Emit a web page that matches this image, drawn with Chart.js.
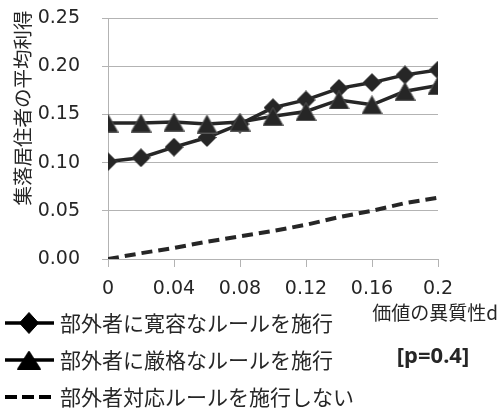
<!DOCTYPE html>
<html>
<head>
<meta charset="utf-8">
<script src="https://cdn.jsdelivr.net/npm/chart.js@4/dist/chart.umd.min.js"></script>
<style>
  html, body { margin: 0; padding: 0; background: #ffffff; }
  #wrap { width: 500px; height: 419px; }
</style>
</head>
<body>
<div id="wrap"><canvas id="c" width="500" height="419"></canvas></div>
<script>
// 価値の異質性 d
const xValues = [0, 0.02, 0.04, 0.06, 0.08, 0.10, 0.12, 0.14, 0.16, 0.18, 0.20];
// 部外者に寛容なルールを施行
const tolerantRule = [0.101, 0.105, 0.116, 0.126, 0.140, 0.157, 0.165, 0.177, 0.183, 0.191, 0.196];
// 部外者に厳格なルールを施行
const strictRule = [0.141, 0.141, 0.142, 0.140, 0.142, 0.148, 0.153, 0.165, 0.160, 0.174, 0.180];
// 部外者対応ルールを施行しない
const noRule = [0.000, 0.006, 0.0115, 0.018, 0.0235, 0.029, 0.0355, 0.0435, 0.050, 0.058, 0.0635];

const seriesLabels = ['部外者に寛容なルールを施行', '部外者に厳格なルールを施行', '部外者対応ルールを施行しない'];
const xTickValues = [0, 0.04, 0.08, 0.12, 0.16, 0.2];
const xTickLabels = ['0', '0.04', '0.08', '0.12', '0.16', '0.2'];
const yTickValues = [0, 0.05, 0.10, 0.15, 0.20, 0.25];
const yTickLabels = ['0.00', '0.05', '0.10', '0.15', '0.20', '0.25'];
const yTitle = '集落居住者の平均利得';
const xTitle = '価値の異質性d';
const noteText = '[p=0.4]';

const INK = '#262626';
const GRID = '#b3b3b3';

// marker bitmaps, centred on their bounding box
function diamondMarker(w, h, fill, edge) {
  const cv = document.createElement('canvas');
  cv.width = w; cv.height = h;
  const g = cv.getContext('2d');
  g.beginPath();
  g.moveTo(w / 2, 0.5); g.lineTo(w - 0.5, h / 2);
  g.lineTo(w / 2, h - 0.5); g.lineTo(0.5, h / 2); g.closePath();
  g.fillStyle = fill; g.fill();
  g.strokeStyle = edge; g.lineWidth = 1; g.stroke();
  return cv;
}
function triangleMarker(w, h, fill, edge) {
  const cv = document.createElement('canvas');
  cv.width = w; cv.height = h;
  const g = cv.getContext('2d');
  g.beginPath();
  g.moveTo(w / 2, 0.5); g.lineTo(w - 0.5, h - 0.5); g.lineTo(0.5, h - 0.5); g.closePath();
  g.fillStyle = fill; g.fill();
  g.strokeStyle = edge; g.lineWidth = 1; g.stroke();
  return cv;
}
const diamondPt = diamondMarker(19, 19, INK, '#3a3a3a');
const trianglePt = triangleMarker(21, 19, INK, '#555555');
const diamondLegend = diamondMarker(20, 22, '#000000', '#000000');
const triangleLegend = triangleMarker(24, 19, '#000000', '#000000');

const toPoints = ys => xValues.map((x, i) => ({ x: x, y: ys[i] }));

// axis titles, note and the legend beneath the plot
const annotations = {
  id: 'annotations',
  afterDraw(chart) {
    const ctx = chart.ctx;
    ctx.save();
    ctx.fillStyle = INK;

    // y axis title, rotated
    ctx.save();
    ctx.translate(23, 108);
    ctx.rotate(-Math.PI / 2);
    ctx.font = '19.5px "Noto Sans CJK JP"';
    ctx.textAlign = 'center';
    ctx.textBaseline = 'middle';
    ctx.fillText(yTitle, 0, 0);
    ctx.restore();

    // x axis title
    ctx.font = '19px "Noto Sans CJK JP"';
    ctx.textAlign = 'right';
    ctx.textBaseline = 'middle';
    ctx.fillText(xTitle, 498, 313);

    // parameter note
    ctx.font = 'bold 22px "Noto Sans"';
    ctx.textAlign = 'center';
    ctx.fillText(noteText, 433, 357);

    // legend
    const rows = [323, 360, 397];
    const icons = [diamondLegend, triangleLegend, null];
    chart.data.datasets.forEach((ds, i) => {
      const y = rows[i];
      ctx.save();
      ctx.strokeStyle = '#000000';
      ctx.lineWidth = ds.borderWidth;
      ctx.setLineDash(ds.borderDash && ds.borderDash.length ? [12, 5] : []);
      ctx.beginPath();
      ctx.moveTo(5, y); ctx.lineTo(54, y);
      ctx.stroke();
      ctx.restore();
      const icon = icons[i];
      if (icon) ctx.drawImage(icon, 29 - icon.width / 2, y - icon.height / 2);
      ctx.fillStyle = INK;
      ctx.font = '21px "Noto Sans CJK JP"';
      ctx.textAlign = 'left';
      ctx.textBaseline = 'middle';
      ctx.fillText(ds.label, 60, y);
    });
    ctx.restore();
  }
};

new Chart(document.getElementById('c'), {
  type: 'line',
  data: {
    datasets: [
      {
        label: seriesLabels[0],
        data: toPoints(tolerantRule),
        borderColor: INK,
        borderWidth: 3.5,
        pointStyle: diamondPt,
        order: 2
      },
      {
        label: seriesLabels[1],
        data: toPoints(strictRule),
        borderColor: INK,
        borderWidth: 3.5,
        pointStyle: trianglePt,
        order: 1
      },
      {
        label: seriesLabels[2],
        data: toPoints(noRule),
        borderColor: INK,
        borderWidth: 4,
        borderDash: [11, 6],
        pointRadius: 0,
        order: 3
      }
    ]
  },
  options: {
    responsive: false,
    animation: false,
    devicePixelRatio: 1,
    layout: { padding: { top: 18, right: 62, left: 0, bottom: 0 } },
    plugins: {
      legend: { display: false },
      tooltip: { enabled: false },
      title: { display: false }
    },
    scales: {
      x: {
        type: 'linear',
        min: 0,
        max: 0.2,
        afterBuildTicks: s => { s.ticks = xTickValues.map(v => ({ value: v })); },
        afterFit: s => { s.height = 160; },
        ticks: {
          autoSkip: false,
          maxRotation: 0,
          padding: 11,
          color: INK,
          font: { family: 'DejaVu Sans', size: 19 },
          callback: (v, i) => xTickLabels[i]
        },
        grid: { drawOnChartArea: false, drawTicks: true, tickLength: 8, color: GRID, lineWidth: 1 },
        border: { display: true, color: GRID, width: 1 }
      },
      y: {
        type: 'linear',
        min: 0,
        max: 0.25,
        afterBuildTicks: s => { s.ticks = yTickValues.map(v => ({ value: v })); },
        afterFit: s => { s.width = 108; s.paddingTop = 0; s.paddingBottom = 0; },
        ticks: {
          autoSkip: false,
          padding: 22,
          color: INK,
          font: { family: 'DejaVu Sans', size: 19 },
          callback: (v, i) => yTickLabels[i]
        },
        grid: { drawOnChartArea: true, drawTicks: true, tickLength: 6, color: GRID, lineWidth: 1 },
        border: { display: true, color: GRID, width: 1 }
      }
    }
  },
  plugins: [annotations]
});
</script>
</body>
</html>
